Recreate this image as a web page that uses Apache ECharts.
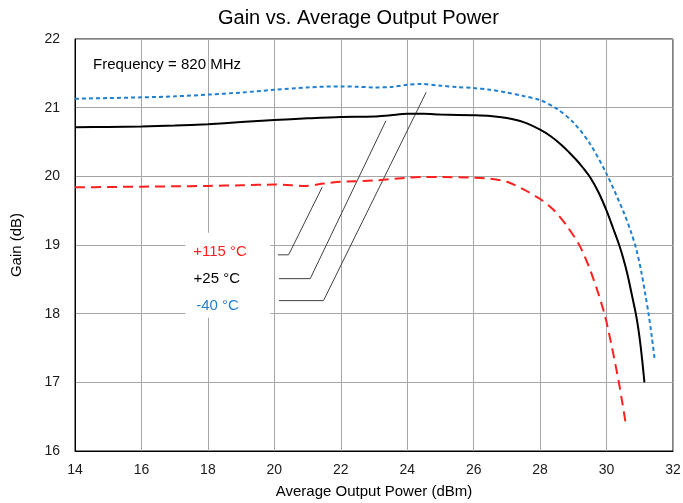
<!DOCTYPE html>
<html>
<head>
<meta charset="utf-8">
<script src="https://cdn.jsdelivr.net/npm/echarts@6/dist/echarts.min.js"></script>
<style>
  html, body { margin: 0; padding: 0; background: #fff; }
  #chart { width: 683px; height: 503px; }
</style>
</head>
<body>
<div id="chart"></div>
<script>
// Output power (dBm) and gain (dB) for each temperature
const powerCold = [14, 15, 16, 17, 18, 19, 20, 21, 22, 22.5, 23, 23.5, 24, 24.4, 25, 25.5, 26, 26.5, 27, 27.5, 28, 28.5, 29, 29.5, 30, 30.5, 30.75, 30.9, 31.05, 31.17, 31.27, 31.36, 31.45];
const gainCold  = [21.13, 21.14, 21.15, 21.165, 21.19, 21.22, 21.26, 21.295, 21.31, 21.305, 21.295, 21.30, 21.335, 21.345, 21.32, 21.30, 21.285, 21.26, 21.22, 21.17, 21.11, 20.985, 20.785, 20.475, 20.035, 19.495, 19.17, 18.93, 18.6, 18.27, 17.98, 17.67, 17.33];

const powerRoom = [14, 15, 16, 17, 18, 19, 20, 21, 22, 23, 23.5, 24, 24.5, 25, 26, 26.5, 27, 27.5, 28, 28.33, 28.66, 28.87, 29.08, 29.29, 29.5, 29.75, 30.0, 30.2, 30.38, 30.5, 30.63, 30.75, 30.88, 30.95, 31.02, 31.08, 31.14];
const gainRoom  = [20.715, 20.72, 20.725, 20.74, 20.76, 20.79, 20.82, 20.845, 20.865, 20.87, 20.89, 20.91, 20.91, 20.90, 20.89, 20.88, 20.85, 20.79, 20.68, 20.58, 20.45, 20.35, 20.245, 20.125, 19.99, 19.775, 19.5, 19.24, 19.0, 18.81, 18.57, 18.3, 18.0, 17.8, 17.55, 17.29, 17.0];

const powerHot = [14, 15, 16, 17, 18, 19, 20, 20.5, 20.9, 21.5, 22, 23, 24, 24.5, 25, 26, 26.5, 27, 27.5, 28, 28.41, 28.8, 29.2, 29.55, 29.93, 30.15, 30.37, 30.47, 30.57];
const gainHot  = [19.84, 19.845, 19.85, 19.855, 19.86, 19.87, 19.88, 19.87, 19.86, 19.895, 19.92, 19.94, 19.98, 19.99, 19.99, 19.98, 19.965, 19.92, 19.81, 19.67, 19.51, 19.28, 18.98, 18.58, 18.01, 17.54, 17.0, 16.72, 16.42];

// Axis ticks
const xTicks = [14, 16, 18, 20, 22, 24, 26, 28, 30, 32];
const yTicks = [16, 17, 18, 19, 20, 21, 22];

// Callout labels, their positions and leader lines (data coordinates)
const labelNames = ['+115 °C', '+25 °C', '-40 °C'];
const labelColors = ['#ff1f1f', '#000000', '#1f7fd0'];
const labelPositions = [[17.56, 18.905], [17.57, 18.51], [17.65, 18.115]];
const leaderHot  = [[20.11, 18.857], [20.43, 18.857], [21.44, 19.842]];
const leaderRoom = [[20.14, 18.51], [21.08, 18.51], [23.36, 20.81]];
const leaderCold = [[20.14, 18.19], [21.48, 18.19], [24.57, 21.224]];
const labelBoxCorners = [[17.32, 19.18], [19.88, 17.94]];

const zip = (xs, ys) => xs.map((x, i) => [x, ys[i]]);

const chart = echarts.init(document.getElementById('chart'), null, { renderer: 'canvas' });

const font = 'Liberation Sans, Arial, sans-serif';

const leaderSeries = (pts) => ({
  type: 'line',
  data: pts,
  showSymbol: false,
  silent: true,
  z: 3,
  lineStyle: { color: '#404040', width: 1 }
});

const curve = (name, data, color, type) => ({
  name, type: 'line', data,
  smooth: 0.3,
  showSymbol: false, z: 4,
  lineStyle: { color, width: 2, type }
});

chart.setOption({
  animation: false,
  backgroundColor: '#ffffff',
  title: {
    text: 'Gain vs. Average Output Power',
    left: 213,
    top: 3,
    textStyle: { fontFamily: font, fontSize: 20, fontWeight: 'normal', color: '#000' }
  },
  grid: {
    left: 75, right: 10, top: 39, bottom: 52,
    outerBoundsMode: 'none',
    containLabel: false,
    show: true, borderColor: '#000', borderWidth: 1
  },
  xAxis: {
    type: 'value',
    min: xTicks[0], max: xTicks[xTicks.length - 1], interval: 2,
    name: 'Average Output Power (dBm)',
    nameLocation: 'middle', nameGap: 33,
    nameTextStyle: { fontFamily: font, fontSize: 15, color: '#000' },
    axisLine: { lineStyle: { color: '#000', width: 1 } },
    axisTick: { show: false },
    axisLabel: { fontFamily: font, fontSize: 14, color: '#1a1a1a', margin: 12 },
    splitLine: { lineStyle: { color: '#a6a6a6', width: 1 } }
  },
  yAxis: {
    type: 'value',
    min: yTicks[0], max: yTicks[yTicks.length - 1], interval: 1,
    name: 'Gain (dB)',
    nameLocation: 'middle', nameGap: 51,
    nameTextStyle: { fontFamily: font, fontSize: 15, color: '#000' },
    axisLine: { show: true, lineStyle: { color: '#000', width: 1 } },
    axisTick: { show: false },
    axisLabel: { fontFamily: font, fontSize: 14, color: '#1a1a1a', margin: 15 },
    splitLine: { lineStyle: { color: '#a6a6a6', width: 1 } }
  },
  series: [
    curve('-40 °C', zip(powerCold, gainCold), '#1f7fd0', [4, 3]),
    curve('+25 °C', zip(powerRoom, gainRoom), '#000000', 'solid'),
    curve('+115 °C', zip(powerHot, gainHot), '#ff1f1f', [10, 6]),
    leaderSeries(leaderHot),
    leaderSeries(leaderRoom),
    leaderSeries(leaderCold)
  ]
});

// Callout box and labels, placed through the grid's coordinate system
const toPx = (p) => chart.convertToPixel({ gridIndex: 0 }, p);
const c0 = toPx(labelBoxCorners[0]);
const c1 = toPx(labelBoxCorners[1]);

chart.setOption({
  graphic: [
    {
      type: 'rect', z: 1, silent: true,
      shape: { x: c0[0], y: c0[1], width: c1[0] - c0[0], height: c1[1] - c0[1] },
      style: { fill: '#ffffff' }
    },
    {
      type: 'text', z: 5, left: 93, top: 57,
      style: { text: 'Frequency = 820 MHz', font: '15px ' + font, fill: '#000' }
    }
  ].concat(labelNames.map((t, i) => {
    const p = toPx(labelPositions[i]);
    return {
      type: 'text', z: 5, x: p[0], y: p[1],
      style: {
        text: t, font: '15px ' + font, fill: labelColors[i],
        textVerticalAlign: 'middle'
      }
    };
  }))
});
</script>
</body>
</html>
